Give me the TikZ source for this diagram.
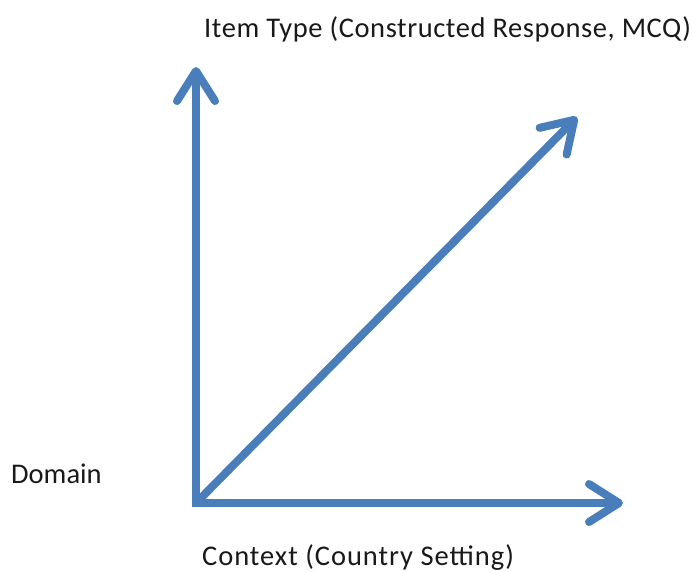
\documentclass[tikz,border=0pt]{standalone}
\usepackage{fontspec}
\setmainfont{Carlito}
\usetikzlibrary{arrows.meta}
\definecolor{axisblue}{RGB}{74,126,187}
\begin{document}
\begin{tikzpicture}[x=1pt,y=-1pt,
  axis/.style={draw=axisblue,line width=8pt,
    -{Straight Barb[length=30pt,width=38pt,round]}},
  lab/.style={anchor=base west,inner sep=0pt,font=\fontsize{28.5}{30}\selectfont,text=black!90}]
\useasboundingbox (0,0) rectangle (692,571);
\coordinate (ov) at (196,507);
\coordinate (oh) at (192,503);
\coordinate (od) at (197,502);
\coordinate (top) at (196,67);
\coordinate (right) at (623,503);
\coordinate (diag) at (577,117);
\draw[axis] (ov) -- (top);
\draw[axis] (oh) -- (right);
\draw[axis] (od) -- (diag);
\node[lab] (item) at (204,37) {\addfontfeature{LetterSpace=2.0}Item Type (Constructed Response, MCQ)};
\node[lab] (dom) at (11,483) {Domain};
\node[lab] (ctx) at (202,565) {\addfontfeature{LetterSpace=3.4}Context (Country Setting)};
\end{tikzpicture}
\end{document}
